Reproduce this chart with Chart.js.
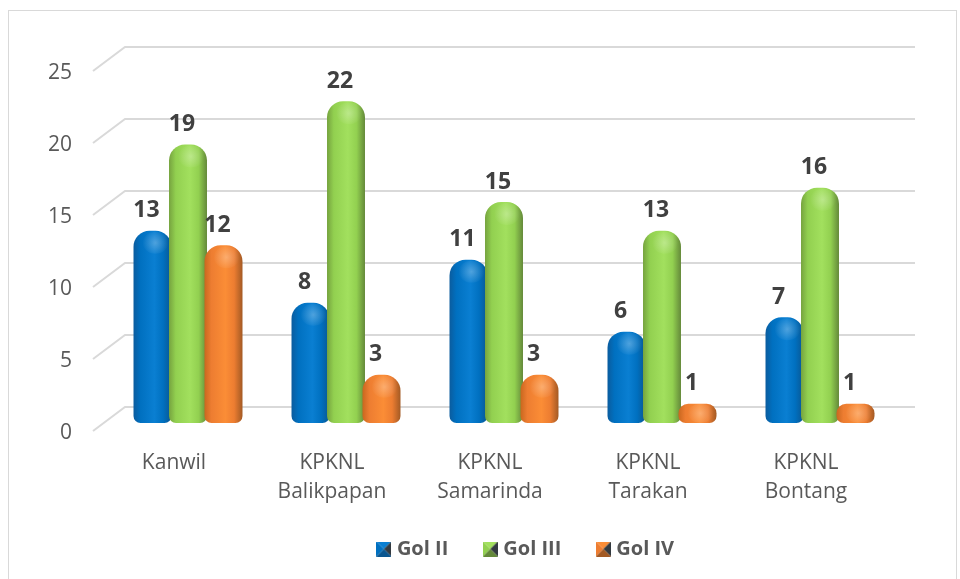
<!DOCTYPE html>
<html>
<head>
<meta charset="utf-8">
<script src="https://cdn.jsdelivr.net/npm/chart.js@4"></script>
<style>
  html, body { margin: 0; padding: 0; background: #fff; overflow: hidden; }
  #wrap { position: relative; width: 960px; height: 579px; }
  #frame { position: absolute; left: 8px; top: 10px; width: 947px; height: 580px; border: 1px solid #d9d9d9; pointer-events: none; }
</style>
</head>
<body>
<div id="wrap">
  <canvas id="myChart" width="960" height="579"></canvas>
  <div id="frame"></div>
</div>
<script>
const categories = ['Kanwil', ['KPKNL', 'Balikpapan'], ['KPKNL', 'Samarinda'], ['KPKNL', 'Tarakan'], ['KPKNL', 'Bontang']];
const golII = [13, 8, 11, 6, 7];
const golIII = [19, 22, 15, 13, 16];
const golIV = [12, 3, 3, 1, 1];
const yTicks = [0, 5, 10, 15, 20, 25];

const fontName = '"Open Sans", sans-serif';
const catPct = 0.674;
const barPct = 1.07;

// edge, mid, highlight, far edge
const shades = {
  blue: ['#0b5c9e', '#0070c0', '#0a7fd2', '#0a5690'],
  green: ['#76a33f', '#92d050', '#a2e05e', '#64893a'],
  orange: ['#c9671f', '#ed7d31', '#fb8d36', '#a35a24']
};

// cylinder look: horizontal gradient across each bar
function barFill(shade) {
  return function (ctx) {
    if (ctx.type !== 'data') return shade[1];
    const chart = ctx.chart;
    const x = chart.scales.x;
    const step = x.getPixelForValue(1) - x.getPixelForValue(0);
    const slot = step * catPct / 3;
    const cx = x.getPixelForValue(ctx.dataIndex) + (ctx.datasetIndex - 1) * slot;
    const half = slot * barPct / 2;
    const g = chart.ctx.createLinearGradient(cx - half, 0, cx + half, 0);
    g.addColorStop(0, shade[0]);
    g.addColorStop(0.18, shade[1]);
    g.addColorStop(0.55, shade[2]);
    g.addColorStop(0.78, shade[1]);
    g.addColorStop(1, shade[3]);
    return g;
  };
}

// small bevelled legend square
function legendIcon(shade) {
  const c = document.createElement('canvas');
  c.width = 15; c.height = 15;
  const g = c.getContext('2d');
  const tri = (pts, col) => {
    g.fillStyle = col;
    g.beginPath();
    g.moveTo(pts[0], pts[1]); g.lineTo(pts[2], pts[3]); g.lineTo(7.5, 7.5);
    g.closePath(); g.fill();
  };
  tri([0, 0, 15, 0], shade[2]);
  tri([0, 0, 0, 15], shade[1]);
  tri([15, 0, 15, 15], '#333a40');
  tri([0, 15, 15, 15], shade[3]);
  return c;
}

function makeSet(label, data, shade) {
  return {
    label: label,
    data: data,
    yAxisID: 'yBar',
    base: -0.35,
    backgroundColor: barFill(shade),
    borderWidth: 0,
    borderSkipped: false,
    borderRadius: { topLeft: 16, topRight: 16, bottomLeft: 7, bottomRight: 7 },
    categoryPercentage: catPct,
    barPercentage: barPct,
    icon: legendIcon(shade)
  };
}

// back wall grid and the slanted side lines
const wallGrid = {
  id: 'wallGrid',
  afterLayout(chart) {
    // legend sits under the whole frame, not under the plot
    chart.legend.left += 78;
    chart.legend.right += 78;
    // second line of the category labels runs past the axis box
    chart.scales.x.bottom += 30;
  },
  beforeDatasetsDraw(chart) {
    const c = chart.ctx, back = chart.scales.yBack, front = chart.scales.y, a = chart.chartArea;
    c.save();
    c.strokeStyle = '#d9d9d9';
    c.lineWidth = 2;
    yTicks.forEach(v => {
      c.beginPath();
      c.moveTo(a.left - 16, front.getPixelForValue(v));
      c.lineTo(a.left + 16, back.getPixelForValue(v));
      c.lineTo(a.right + 16, back.getPixelForValue(v));
      c.stroke();
    });
    c.restore();
  }
};

// bars overlap left to right, so the later series has to paint last
const barLabels = {
  id: 'barLabels',
  beforeDatasetDraw() { return false; },
  afterDatasetsDraw(chart) {
    const c = chart.ctx;
    chart.data.datasets.forEach((ds, i) => {
      const meta = chart.getDatasetMeta(i);
      meta.controller.draw();
      meta.data.forEach(bar => {
        const h = Math.min(12, (bar.base - bar.y) / 2);
        const gx = bar.x + 3, gy = bar.y + h;
        const g = c.createRadialGradient(gx, gy, 0, gx, gy, 13);
        g.addColorStop(0, 'rgba(255,255,255,0.28)');
        g.addColorStop(1, 'rgba(255,255,255,0)');
        c.save();
        c.fillStyle = g;
        c.beginPath();
        c.ellipse(gx, gy, 13, Math.min(11, h), 0, 0, Math.PI * 2);
        c.fill();
        c.restore();
      });
    });
    c.save();
    c.font = 'bold 23px ' + fontName;
    c.fillStyle = '#404040';
    c.textAlign = 'center';
    c.textBaseline = 'middle';
    chart.data.datasets.forEach((ds, i) => {
      chart.getDatasetMeta(i).data.forEach((bar, j) => {
        c.fillText(String(ds.data[j]), bar.x - 6, bar.y - 20);
      });
    });
    c.restore();
  }
};

const ctx = document.getElementById('myChart').getContext('2d');
let myChart = new Chart(ctx, {
  type: 'bar',
  data: {
    labels: categories,
    datasets: [
      makeSet('Gol II', golII, shades.blue),
      makeSet('Gol III', golIII, shades.green),
      makeSet('Gol IV', golIV, shades.orange)
    ]
  },
  plugins: [wallGrid, barLabels],
  options: {
    responsive: false,
    animation: false,
    layout: { padding: { left: 0, right: 61, top: 47, bottom: 10 } },
    scales: {
      x: {
        grid: { display: false, drawTicks: false },
        border: { display: false },
        afterFit(axis) { axis.height = 69; axis.paddingLeft = 0; axis.paddingRight = 0; },
        ticks: {
          color: '#595959',
          font: { family: fontName, size: 21, lineHeight: 1.4 },
          maxRotation: 0,
          autoSkip: false,
          labelOffset: -14,
          padding: 17
        }
      },
      // front labels, sit lower than the wall
      y: {
        min: 0,
        max: 26.667,
        grid: { display: false, drawTicks: false },
        border: { display: false },
        afterFit(axis) { axis.width = 109; axis.paddingTop = 0; axis.paddingBottom = 0; },
        afterBuildTicks(axis) { axis.ticks = yTicks.map(v => ({ value: v })); },
        ticks: {
          color: '#595959',
          font: { family: fontName, size: 21 },
          padding: 37,
          labelOffset: 2
        }
      },
      yBack: { display: false, min: -1.667, max: 25 },
      yBar: { display: false, min: -0.9, max: 25.767 }
    },
    plugins: {
      tooltip: { enabled: false },
      legend: {
        position: 'bottom',
        labels: {
          usePointStyle: true,
          boxWidth: 6,
          padding: 39,
          color: '#595959',
          font: { family: fontName, size: 20, weight: 'bold' },
          generateLabels(chart) {
            return chart.data.datasets.map((ds, i) => ({
              text: ds.label,
              datasetIndex: i,
              pointStyle: ds.icon,
              fontColor: '#595959',
              lineWidth: 0,
              hidden: false
            }));
          }
        }
      }
    }
  }
});
</script>
</body>
</html>
